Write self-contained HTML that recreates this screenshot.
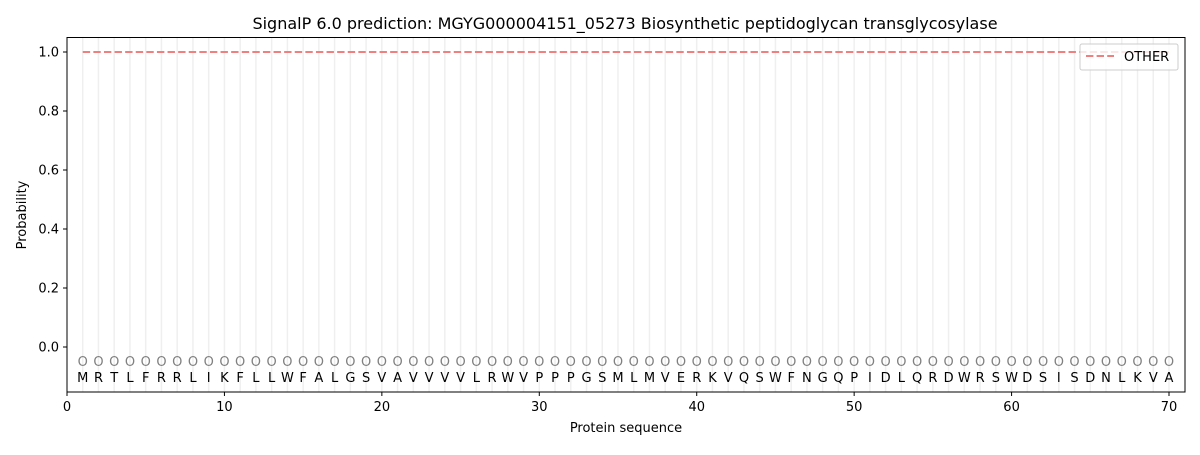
<!DOCTYPE html>
<html><head><meta charset="utf-8"><style>
html,body{margin:0;padding:0;background:#fff;}
svg text{font-family:"DejaVu Sans","Liberation Sans",sans-serif;}
</style></head><body>
<svg width="1200" height="450" xmlns="http://www.w3.org/2000/svg">
<defs>
<pattern id="g" patternUnits="userSpaceOnUse" x="81.99" y="0" width="15.743" height="10">
<rect x="0" y="0" width="1.5" height="10" fill="#efefef"/>
</pattern>
</defs>
<rect x="0" y="0" width="1200" height="450" fill="#fff"/>
<rect x="75" y="37.5" width="1100" height="354.5" fill="url(#g)"/>
<line x1="82.74" y1="52" x2="1169" y2="52" stroke="#f08080" stroke-width="2" stroke-dasharray="7.4,3.2"/>
<text font-size="13" fill="#808080" text-anchor="middle" x="82.74 98.49 114.23 129.97 145.72 161.46 177.20 192.94 208.69 224.43 240.17 255.92 271.66 287.40 303.15 318.89 334.63 350.37 366.12 381.86 397.60 413.35 429.09 444.83 460.58 476.32 492.06 507.80 523.55 539.29 555.03 570.78 586.52 602.26 618.01 633.75 649.49 665.23 680.98 696.72 712.46 728.21 743.95 759.69 775.44 791.18 806.92 822.66 838.41 854.15 869.89 885.64 901.38 917.12 932.87 948.61 964.35 980.09 995.84 1011.58 1027.32 1043.07 1058.81 1074.55 1090.30 1106.04 1121.78 1137.52 1153.27 1169.01" y="366">OOOOOOOOOOOOOOOOOOOOOOOOOOOOOOOOOOOOOOOOOOOOOOOOOOOOOOOOOOOOOOOOOOOOOO</text>
<text font-size="13" fill="#000" text-anchor="middle" x="82.74 98.49 114.23 129.97 145.72 161.46 177.20 192.94 208.69 224.43 240.17 255.92 271.66 287.40 303.15 318.89 334.63 350.37 366.12 381.86 397.60 413.35 429.09 444.83 460.58 476.32 492.06 507.80 523.55 539.29 555.03 570.78 586.52 602.26 618.01 633.75 649.49 665.23 680.98 696.72 712.46 728.21 743.95 759.69 775.44 791.18 806.92 822.66 838.41 854.15 869.89 885.64 901.38 917.12 932.87 948.61 964.35 980.09 995.84 1011.58 1027.32 1043.07 1058.81 1074.55 1090.30 1106.04 1121.78 1137.52 1153.27 1169.01" y="382">MRTLFRRLIKFLLWFALGSVAVVVVLRWVPPPGSMLMVERKVQSWFNGQPIDLQRDWRSWDSISDNLKVA</text>
<rect x="67" y="37.5" width="1118" height="354.5" fill="none" stroke="#000" stroke-width="1"/>
<g stroke="#000" stroke-width="1">
<line x1="67" y1="392" x2="67" y2="396"/><line x1="224.43" y1="392" x2="224.43" y2="396"/><line x1="381.86" y1="392" x2="381.86" y2="396"/><line x1="539.29" y1="392" x2="539.29" y2="396"/><line x1="696.72" y1="392" x2="696.72" y2="396"/><line x1="854.15" y1="392" x2="854.15" y2="396"/><line x1="1011.58" y1="392" x2="1011.58" y2="396"/><line x1="1169.01" y1="392" x2="1169.01" y2="396"/>
<line x1="63" y1="52" x2="67" y2="52"/><line x1="63" y1="111" x2="67" y2="111"/><line x1="63" y1="170" x2="67" y2="170"/><line x1="63" y1="229" x2="67" y2="229"/><line x1="63" y1="288" x2="67" y2="288"/><line x1="63" y1="347" x2="67" y2="347"/>
</g>
<g font-size="13" fill="#000" text-anchor="middle">
<text x="67" y="411">0</text><text x="224.43" y="411">10</text><text x="381.86" y="411">20</text><text x="539.29" y="411">30</text><text x="696.72" y="411">40</text><text x="854.15" y="411">50</text><text x="1011.58" y="411">60</text><text x="1169.01" y="411">70</text>
</g>
<g font-size="13" fill="#000" text-anchor="end">
<text x="59" y="56.5">1.0</text><text x="59" y="115.5">0.8</text><text x="59" y="174.5">0.6</text><text x="59" y="233.5">0.4</text><text x="59" y="292.5">0.2</text><text x="59" y="351.5">0.0</text>
</g>
<text x="626" y="432" font-size="13" text-anchor="middle">Protein sequence</text>
<text transform="translate(26,215) rotate(-90)" font-size="13" text-anchor="middle">Probability</text>
<text x="625" y="29" font-size="16" text-anchor="middle">SignalP 6.0 prediction: MGYG000004151_05273 Biosynthetic peptidoglycan transglycosylase</text>
<rect x="1080" y="44" width="98" height="26" rx="2" fill="#fff" fill-opacity="0.8" stroke="#ccc"/>
<line x1="1086" y1="56" x2="1114" y2="56" stroke="#f08080" stroke-width="2" stroke-dasharray="7.4,3.2"/>
<text x="1124" y="61" font-size="13">OTHER</text>
</svg>
</body></html>
